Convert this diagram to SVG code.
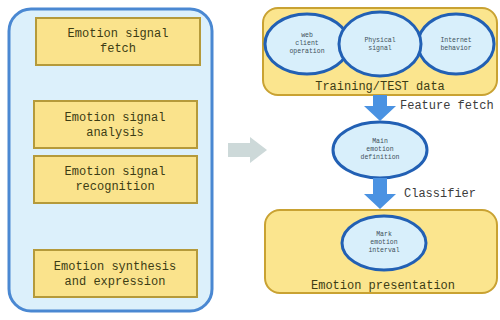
<svg xmlns="http://www.w3.org/2000/svg" width="500" height="320" viewBox="0 0 500 320">
<style>
.box{fill:#fae38c;stroke:#b59a3a;stroke-width:2}
.panel{fill:#fbe58e;stroke:#c9a232;stroke-width:2}
.ell{fill:#d8effb;stroke:#2260b4;stroke-width:3}
.t{font-family:"Liberation Mono",monospace;font-size:12px;fill:#3c3c14;text-anchor:middle}
.s{font-family:"Liberation Mono",monospace;font-size:6.5px;fill:#40505a;text-anchor:middle}
.lbl{font-family:"Liberation Mono",monospace;font-size:12px;fill:#3c3c3c}
.barrow{fill:#4a92e2}
</style>
<rect width="500" height="320" fill="#ffffff"/>
<g id="left-panel">
<rect x="9" y="9" width="203" height="302" rx="22" fill="#dcf0fb" stroke="#4a88d2" stroke-width="3"/>
</g>
<g id="fetch">
<rect class="box" x="36" y="18" width="164" height="47"/>
<text class="t" x="118" y="37">Emotion signal</text>
<text class="t" x="118" y="52">fetch</text>
</g>
<g id="analysis">
<rect class="box" x="34" y="101" width="163" height="47"/>
<text class="t" x="115" y="121">Emotion signal</text>
<text class="t" x="115" y="136">analysis</text>
</g>
<g id="recognition">
<rect class="box" x="34" y="156" width="163" height="47"/>
<text class="t" x="115" y="175">Emotion signal</text>
<text class="t" x="115" y="190">recognition</text>
</g>
<g id="synthesis">
<rect class="box" x="34" y="250" width="163" height="47"/>
<text class="t" x="115" y="270">Emotion synthesis</text>
<text class="t" x="115" y="285">and expression</text>
</g>
<g id="training">
<rect class="panel" x="263" y="8" width="234" height="87" rx="15"/>
<ellipse class="ell" cx="307" cy="44" rx="42" ry="30"/>
<ellipse class="ell" cx="456" cy="44" rx="38" ry="30"/>
<ellipse class="ell" cx="380" cy="44" rx="41" ry="32"/>
<text class="s" x="307" y="37">web</text>
<text class="s" x="307" y="45">client</text>
<text class="s" x="307" y="53">operation</text>
<text class="s" x="380" y="42">Physical</text>
<text class="s" x="380" y="50">signal</text>
<text class="s" x="456" y="42">Internet</text>
<text class="s" x="456" y="50">behavior</text>
<text class="t" x="380" y="90">Training/TEST data</text>
</g>
<g id="definition">
<ellipse class="ell" cx="380" cy="150" rx="47" ry="28"/>
<text class="s" x="380" y="143">Main</text>
<text class="s" x="380" y="151">emotion</text>
<text class="s" x="380" y="159">definition</text>
</g>
<g id="presentation">
<rect class="panel" x="265" y="210" width="232" height="83" rx="15"/>
<ellipse class="ell" cx="384" cy="243" rx="42" ry="27"/>
<text class="s" x="384" y="236">Mark</text>
<text class="s" x="384" y="244">emotion</text>
<text class="s" x="384" y="252">interval</text>
<text class="t" x="383" y="289">Emotion presentation</text>
</g>
<g id="connectors">
<polygon fill="#cdd9d9" points="228,143 250,143 250,137 267,150 250,163 250,157 228,157"/>
<polygon class="barrow" points="373,95 387,95 387,106 396,106 380,121 364,106 373,106"/>
<polygon class="barrow" points="373,178 387,178 387,194 396,194 380,209 364,194 373,194"/>
<text class="lbl" x="400" y="109">Feature fetch</text>
<text class="lbl" x="404" y="197">Classifier</text>
</g>
</svg>
